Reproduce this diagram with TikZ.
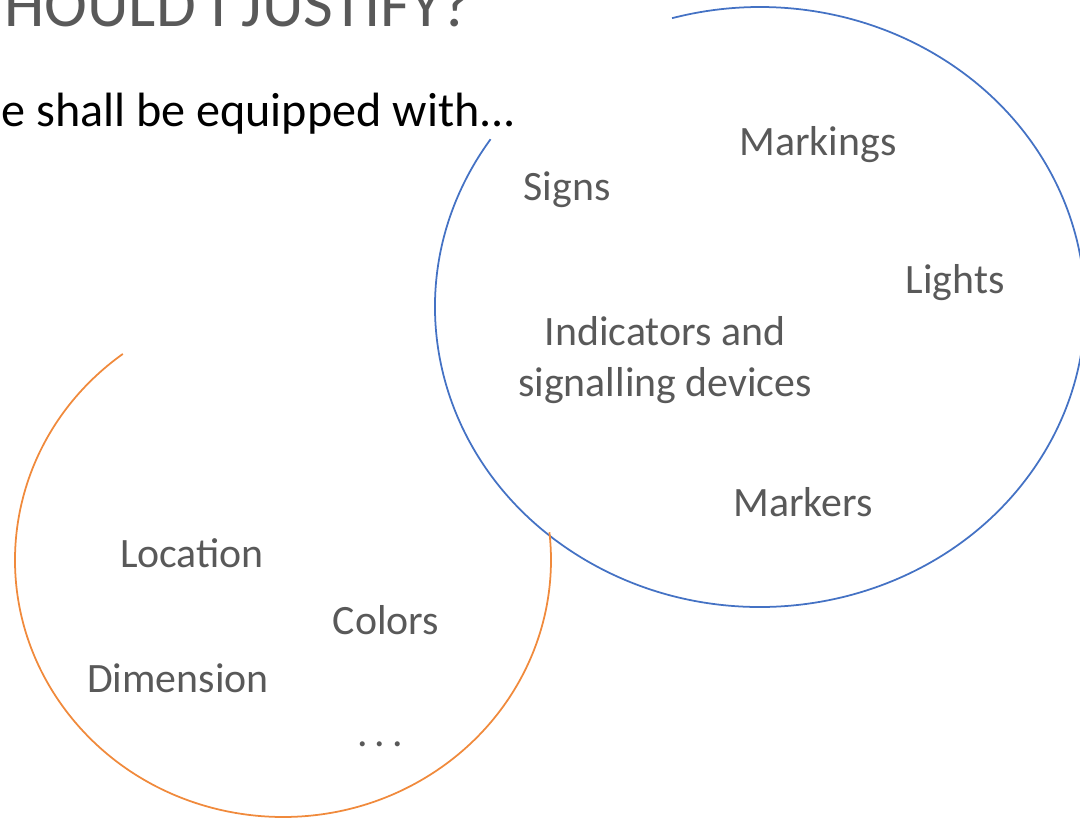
\documentclass[tikz,border=0pt]{standalone}
\usepackage{fontspec}
\setmainfont{Carlito}
\usepackage{tikz}
\usetikzlibrary{positioning}

\definecolor{itemgray}{HTML}{595959}
\definecolor{ringblue}{HTML}{4472C4}
\definecolor{ringorange}{HTML}{F08A3C}

\tikzset{
  item/.style={text=itemgray, inner sep=0pt, anchor=base,
    font=\fontsize{23.8pt}{28.9pt}\selectfont},
  ring/.style={line width=1pt}
}

\begin{document}
\begin{tikzpicture}[x=0.02cm,y=0.02cm]

% page frame
\useasboundingbox (0,0) rectangle (1080,818);
\clip (0,0) rectangle (1080,818);

%% heading and lead line
\node[text=itemgray, inner sep=0pt, anchor=base west,
  font=\fontsize{36.8pt}{40pt}\selectfont] (title) at (4,791) {HOULD I JUSTIFY?};
\node[text=black, inner sep=0pt, anchor=base west,
  font=\fontsize{27.4pt}{32pt}\selectfont] (lead) at (1,691) {e shall be equipped with...};

%% blue ring
\draw[ring, draw=ringblue] (760,511) ++(146:325 and 300)
  arc[start angle=146, end angle=465.7, x radius=325, y radius=300];

%% orange ring
\draw[ring, draw=ringorange] (283,258) ++(126.7:268 and 257)
  arc[start angle=126.7, end angle=366.2, x radius=268, y radius=257];

% blue ring items
\node[item] (markings) at (818,662) {Markings};
\node[item] (signs) at (567,617) {Signs};
\node[item] (lights) at (955,524) {Lights};
\node[item, anchor=center, align=center] (indicators) at (665,458)
  {Indicators and\\signalling devices};
\node[item] (markers) at (803,301) {Markers};

% orange ring items
\node[item] (location) at (192,250) {Location};
\node[item] (colors) at (386,183) {Colors};
\node[item] (dimension) at (178,125) {Dimension};
\node[item] (more) at (380,71) {.\kern4pt.\kern4pt.};

\end{tikzpicture}
\end{document}
